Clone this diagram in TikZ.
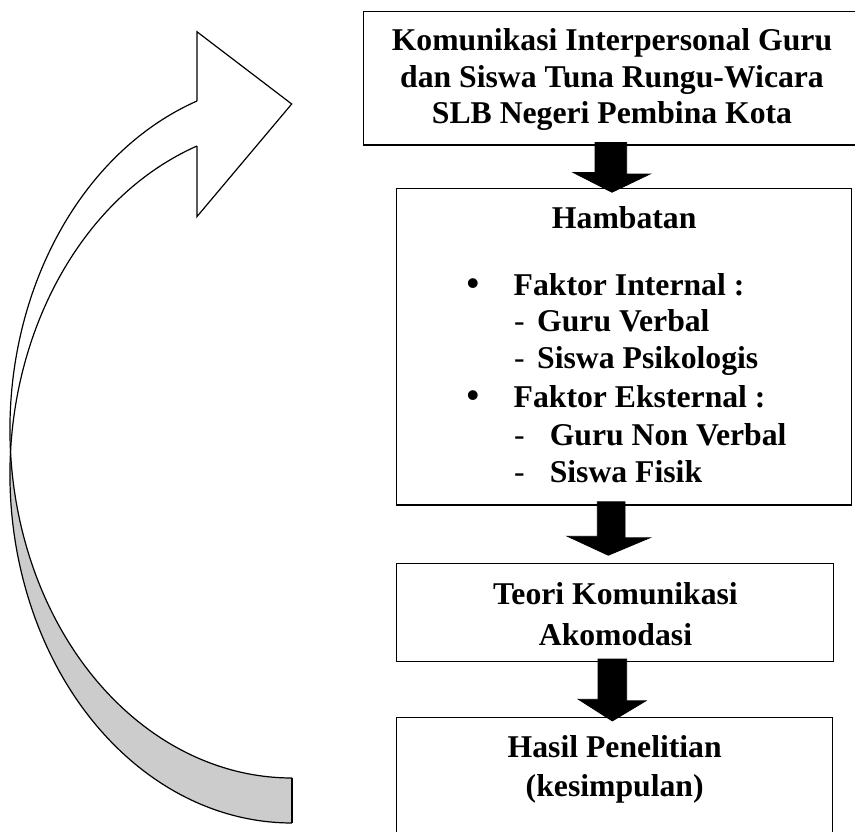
\documentclass[tikz,border=0pt]{standalone}
\usepackage{fontspec}
\setmainfont{Liberation Serif}
\definecolor{tailgray}{RGB}{204,204,204}
\begin{document}
\begin{tikzpicture}[x=1pt,y=-1pt,
  box/.style={draw, line width=1.5pt, inner sep=0pt, rectangle},
  txt/.style={inner sep=0pt, font=\fontsize{31.7}{37}\selectfont\bfseries},
  dashtxt/.style={inner sep=0pt, font=\fontsize{31.7}{37}\selectfont},
  bullettxt/.style={inner sep=0pt, font=\fontsize{36}{37}\selectfont\bfseries},
  blockarrow/.style={fill=black, draw=black, line width=0.8pt, line join=miter},
  curve/.style={line width=1.2pt, line join=miter}]
\useasboundingbox (0,0) rectangle (855,832);
\clip (0,0) rectangle (855,832);

% ---- boxes ----
\node[box, minimum width=496.7pt, minimum height=133.3pt] (top) at (611.7,78.35) {};
\node[box, minimum width=455pt, minimum height=316.7pt] (hamb) at (624.2,346.65) {};
\node[box, minimum width=436.6pt, minimum height=98.4pt] (teori) at (615,612.5) {};
\node[box, minimum width=436pt, minimum height=122.7pt] (hasil) at (614.7,778.65) {};

% ---- texts ----
\node[txt, anchor=base] (t1) at (612,50.7) {Komunikasi Interpersonal Guru};
\node[txt, anchor=base] (t2) at (612,87.3) {dan Siswa Tuna Rungu-Wicara};
\node[txt, anchor=base] (t3) at (612,124) {SLB Negeri Pembina Kota};

\node[txt, anchor=base] (h0) at (624.2,229) {Hambatan};
\node[bullettxt, anchor=base west] (hb1) at (466.5,295) {•};
\node[txt, anchor=base west] (hf1) at (513.5,295) {Faktor Internal :};
\node[dashtxt, anchor=base west] (hd1) at (513.8,331.7) {-};
\node[txt, anchor=base west] (hg1) at (537,331.7) {Guru Verbal};
\node[dashtxt, anchor=base west] (hd2) at (513.8,368.3) {-};
\node[txt, anchor=base west] (hs1) at (537,368.3) {Siswa Psikologis};
\node[bullettxt, anchor=base west] (hb2) at (466.5,407) {•};
\node[txt, anchor=base west] (hf2) at (513.5,407) {Faktor Eksternal :};
\node[dashtxt, anchor=base west] (hd3) at (513.8,445) {-};
\node[txt, anchor=base west] (hg2) at (549.6,445) {Guru Non Verbal};
\node[dashtxt, anchor=base west] (hd4) at (513.8,482) {-};
\node[txt, anchor=base west] (hs2) at (549.6,482) {Siswa Fisik};

\node[txt, anchor=base] (k1) at (615.5,604.5) {Teori Komunikasi};
\node[txt, anchor=base] (k2) at (615.5,645) {Akomodasi};

\node[txt, anchor=base] (r1) at (614.7,757) {Hasil Penelitian};
\node[txt, anchor=base] (r2) at (614.7,796.5) {(kesimpulan)};

% ---- block arrows (connectors) ----
\filldraw[blockarrow] ([shift={(-16.7,-3.3)}]top.south) -- ++(31.7,0) -- ++(0,31.6) -- ++(23.3,0)
  -- ([shift={(-12.2,4.7)}]hamb.north) -- ++(-38.7,-19.7) -- ++(21.7,0) -- cycle;
\filldraw[blockarrow] ([shift={(-26.9,-4)}]hamb.south) -- ++(27.7,0) -- ++(0,36) -- ++(25,0)
  -- ([shift={(-6.7,-7.3)}]teori.north) -- ++(-41,-19) -- ++(30,0) -- cycle;
\filldraw[blockarrow] ([shift={(-17,-3.4)}]teori.south) -- ++(28.7,0) -- ++(0,41.7) -- ++(19.3,0)
  -- ([shift={(-2.4,4.4)}]hasil.north) -- ++(-34,-21.7) -- ++(19.7,0) -- cycle;

% ---- curved arrow ----
\fill[tailgray] ([shift={(292,474.3)}]183.7:282 and 348.7)
  arc[start angle=183.7, end angle=90, x radius=282, y radius=348.7]
  -- ([shift={(292,429.3)}]90:282 and 348.7)
  arc[start angle=90, end angle=176.3, x radius=282, y radius=348.7] -- cycle;
\draw[curve] ([shift={(292,429.3)}]250.3:282 and 348.7) coordinate (e2s)
  arc[start angle=250.3, end angle=90, x radius=282, y radius=348.7] coordinate (e2e);
\draw[curve] ([shift={(292,474.3)}]250.3:282 and 348.7) coordinate (e1s)
  arc[start angle=250.3, end angle=90, x radius=282, y radius=348.7] coordinate (e1e);
\draw[curve] (e2e) -- (e1e);
\coordinate (headtop) at (196.9,31.7);
\coordinate (headtip) at (291.7,104);
\coordinate (headbot) at (196.9,216.7);
\draw[curve] (e2s) -- (headtop) -- (headtip) -- (headbot) -- (e1s);
\end{tikzpicture}
\end{document}
